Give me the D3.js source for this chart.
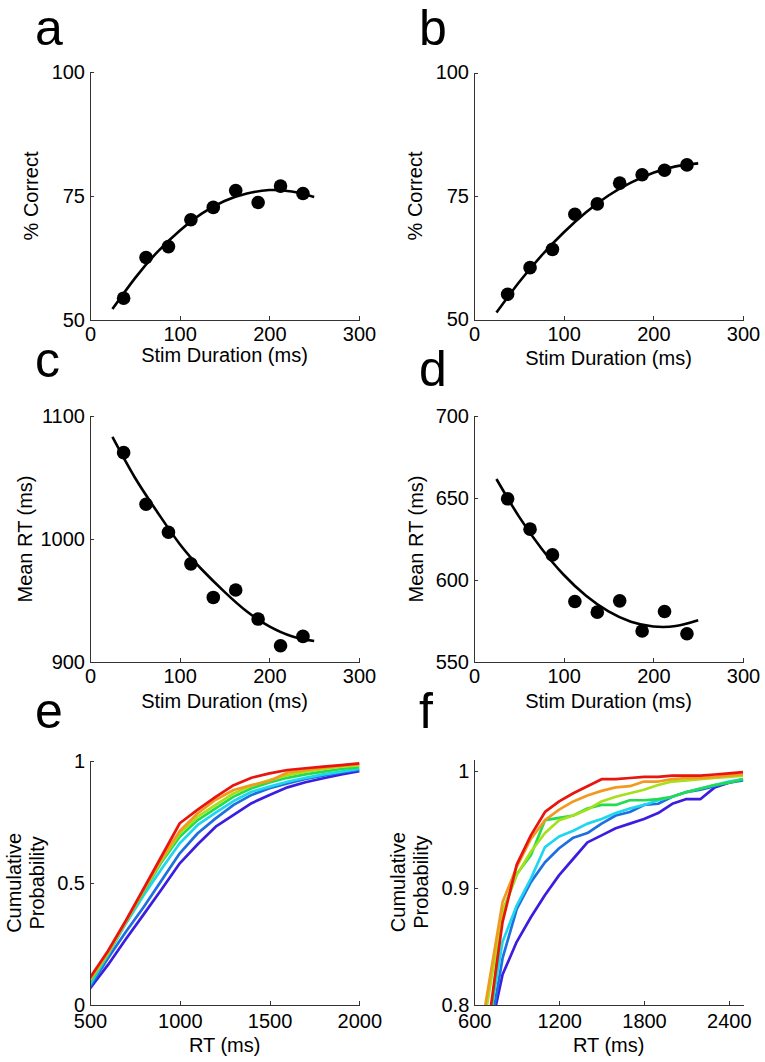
<!DOCTYPE html>
<html>
<head>
<meta charset="utf-8">
<script src="https://cdn.jsdelivr.net/npm/d3@7"></script>
<style>
  html, body { margin: 0; padding: 0; background: #fff; }
  svg { display: block; font-family: "Liberation Sans", Arial, Helvetica, sans-serif; }
  .axis path, .axis line { stroke: #333; stroke-width: 1; shape-rendering: crispEdges; }
  .axis text { fill: #000; font-size: 20px; font-family: "Liberation Sans", Arial, Helvetica, sans-serif; }
</style>
</head>
<body>
<svg id="chart" width="765" height="1062"></svg>
<script>
// ---------------- DATA ----------------
const stimDurations = [37.5, 62.5, 87.5, 112.5, 137.5, 162.5, 187.5, 212.5, 237.5];
const pctCorrectA = [54.4, 62.6, 64.8, 70.2, 72.7, 76.1, 73.7, 77.0, 75.5];
const pctCorrectB = [55.1, 60.5, 64.2, 71.3, 73.4, 77.6, 79.3, 80.2, 81.3];
const meanRtC = [1070.2, 1028.3, 1005.5, 979.8, 952.5, 958.5, 934.9, 913.2, 920.8];
const meanRtD = [649.5, 631.0, 615.3, 586.9, 580.4, 587.3, 568.9, 580.8, 567.2];

// fitted curves
const fitDurations = [25, 50, 75, 100, 125, 150, 175, 200, 225, 250];
const fitA = [52.2, 58.4, 63.7, 68.0, 71.5, 74.0, 75.5, 76.2, 75.9, 74.8];
const fitB = [51.4, 57.5, 62.9, 67.6, 71.7, 75.1, 77.7, 79.7, 81.0, 81.6];
const fitC = [1083, 1050, 1022, 996, 975, 957, 941, 929, 921, 917];
const fitD = [661.6, 638.8, 619.4, 603.2, 590.4, 580.8, 574.5, 571.6, 571.9, 575.5];

const durTicks = [0, 100, 200, 300];
const ticksA = [50, 75, 100];
const ticksC = [900, 1000, 1100];
const ticksD = [550, 600, 650, 700];

// cumulative RT distributions
const rtE = [500, 600, 700, 800, 900, 1000, 1100, 1200, 1300, 1400, 1500, 1600, 1700, 1800, 1900, 2000];
const cumE_violet = [0.068, 0.164, 0.270, 0.372, 0.475, 0.580, 0.658, 0.730, 0.778, 0.826, 0.860, 0.891, 0.912, 0.928, 0.944, 0.957];
const cumE_blue   = [0.075, 0.191, 0.300, 0.402, 0.512, 0.621, 0.703, 0.764, 0.819, 0.860, 0.887, 0.907, 0.925, 0.939, 0.952, 0.962];
const cumE_cyan   = [0.085, 0.205, 0.334, 0.450, 0.559, 0.662, 0.737, 0.787, 0.835, 0.873, 0.894, 0.914, 0.930, 0.944, 0.955, 0.967];
const cumE_green  = [0.095, 0.209, 0.341, 0.464, 0.587, 0.689, 0.757, 0.805, 0.853, 0.887, 0.911, 0.930, 0.944, 0.955, 0.966, 0.974];
const cumE_yellow = [0.102, 0.212, 0.341, 0.471, 0.594, 0.703, 0.771, 0.819, 0.866, 0.898, 0.921, 0.941, 0.955, 0.966, 0.976, 0.981];
const cumE_orange = [0.106, 0.216, 0.343, 0.473, 0.600, 0.712, 0.785, 0.840, 0.880, 0.900, 0.917, 0.952, 0.962, 0.971, 0.980, 0.986];
const cumE_red    = [0.112, 0.221, 0.346, 0.478, 0.611, 0.744, 0.800, 0.852, 0.900, 0.930, 0.948, 0.962, 0.969, 0.976, 0.982, 0.989];

const rtF = [600, 700, 800, 900, 1000, 1100, 1200, 1300, 1400, 1500, 1600, 1700, 1800, 1900, 2000, 2100, 2200, 2300, 2400, 2500];
const cumF_violet = [0.700, 0.770, 0.826, 0.854, 0.875, 0.894, 0.911, 0.925, 0.939, 0.945, 0.951, 0.955, 0.959, 0.964, 0.972, 0.976, 0.976, 0.986, 0.990, 0.993];
const cumF_blue   = [0.700, 0.769, 0.840, 0.882, 0.905, 0.922, 0.934, 0.943, 0.947, 0.955, 0.962, 0.965, 0.971, 0.972, 0.978, 0.982, 0.984, 0.987, 0.990, 0.992];
const cumF_cyan   = [0.700, 0.782, 0.854, 0.885, 0.908, 0.935, 0.944, 0.949, 0.955, 0.959, 0.964, 0.968, 0.971, 0.975, 0.978, 0.982, 0.985, 0.988, 0.991, 0.993];
const cumF_green  = [0.700, 0.773, 0.880, 0.912, 0.928, 0.958, 0.960, 0.962, 0.968, 0.971, 0.971, 0.975, 0.975, 0.976, 0.978, 0.982, 0.985, 0.988, 0.990, 0.993];
const cumF_yellow = [0.740, 0.807, 0.880, 0.911, 0.931, 0.947, 0.958, 0.962, 0.967, 0.974, 0.978, 0.981, 0.984, 0.988, 0.991, 0.992, 0.993, 0.994, 0.995, 0.996];
const cumF_orange = [0.743, 0.816, 0.888, 0.918, 0.942, 0.958, 0.967, 0.974, 0.979, 0.983, 0.986, 0.987, 0.991, 0.991, 0.993, 0.994, 0.994, 0.995, 0.996, 0.997];
const cumF_red    = [0.650, 0.784, 0.871, 0.920, 0.945, 0.965, 0.974, 0.981, 0.987, 0.993, 0.993, 0.994, 0.995, 0.995, 0.996, 0.996, 0.996, 0.997, 0.998, 0.999];

const seriesColors = ["#3c1de0", "#1e6fe0", "#1ed7ee", "#22dc50", "#a6e01a", "#f29a1f", "#e8140e"];
const ticksE_x = [500, 1000, 1500, 2000];
const ticksE_y = [0, 0.5, 1];
const ticksF_x = [600, 1200, 1800, 2400];
const ticksF_y = [0.8, 0.9, 1];

// ---------------- DRAWING ----------------
const svg = d3.select("#chart");
svg.append("rect").attr("width", 765).attr("height", 1062).attr("fill", "#fff");
const FONT = "'Liberation Sans', Arial, Helvetica, sans-serif";

let clipId = 0;
function panel(opt) {
  const g = svg.append("g");
  const x = d3.scaleLinear().domain(opt.xDomain).range(opt.xRange);
  const y = d3.scaleLinear().domain(opt.yDomain).range(opt.yRange);

  const cid = "clip" + (clipId++);
  svg.append("clipPath").attr("id", cid).append("rect")
    .attr("x", opt.xRange[0]).attr("y", Math.min(...opt.yRange) - 3)
    .attr("width", opt.xRange[1] - opt.xRange[0] + 4)
    .attr("height", Math.abs(opt.yRange[0] - opt.yRange[1]) + 3);

  const plot = g.append("g").attr("clip-path", opt.clip ? `url(#${cid})` : null);

  // axes
  g.append("g").attr("class", "axis")
    .attr("transform", `translate(0,${opt.yRange[0]})`)
    .call(d3.axisBottom(x).tickValues(opt.xTicks).tickSize(-4).tickSizeOuter(0)
      .tickPadding(opt.xPad || 7).tickFormat(d3.format("d")));
  g.append("g").attr("class", "axis")
    .attr("transform", `translate(${opt.xRange[0]},0)`)
    .call(d3.axisLeft(y).tickValues(opt.yTicks).tickSize(-4).tickSizeOuter(0).tickPadding(5)
      .tickFormat(opt.yFormat || d3.format("d")));
  g.selectAll(".axis .domain").attr("fill", "none");

  // x title
  g.append("text").attr("x", (opt.xRange[0] + opt.xRange[1]) / 2).attr("y", opt.xTitleY)
    .attr("text-anchor", "middle").attr("font-size", 20).attr("font-family", FONT)
    .text(opt.xTitle);
  // y title (possibly multi-line)
  const yMid = (opt.yRange[0] + opt.yRange[1]) / 2;
  opt.yTitle.forEach((t, i) => {
    g.append("text")
      .attr("transform", `translate(${opt.yTitleX[i]},${yMid}) rotate(-90)`)
      .attr("text-anchor", "middle").attr("font-size", 20).attr("font-family", FONT)
      .text(t);
  });
  // panel letter
  g.append("text").attr("x", opt.letterPos[0]).attr("y", opt.letterPos[1])
    .attr("font-size", 50).attr("font-family", FONT).text(opt.letter);

  return { plot, x, y };
}

function fitPanel(opt, xs, ys, fitYs) {
  const p = panel(opt);
  const line = d3.line().x(d => p.x(d[0])).y(d => p.y(d[1])).curve(d3.curveNatural);
  p.plot.append("path").datum(fitDurations.map((d, i) => [d, fitYs[i]]))
    .attr("d", line).attr("fill", "none").attr("stroke", "#000").attr("stroke-width", 2.6);
  p.plot.selectAll("circle").data(xs.map((d, i) => [d, ys[i]])).join("circle")
    .attr("cx", d => p.x(d[0])).attr("cy", d => p.y(d[1])).attr("r", 6.8).attr("fill", "#000");
}

function cdfPanel(opt, xs, seriesList) {
  const p = panel(Object.assign({ clip: true }, opt));
  const line = d3.line().x(d => p.x(d[0])).y(d => p.y(d[1]));
  seriesList.forEach((s, i) => {
    p.plot.append("path").datum(xs.map((d, j) => [d, s[j]]))
      .attr("d", line).attr("fill", "none").attr("stroke", seriesColors[i])
      .attr("stroke-width", 2.7).attr("stroke-linejoin", "round");
  });
}

fitPanel({
  xDomain: [0, 300], xRange: [90, 359], yDomain: [50, 100], yRange: [320, 72],
  xTicks: durTicks, yTicks: ticksA, xTitle: "Stim Duration (ms)", xTitleY: 362,
  yTitle: ["% Correct"], yTitleX: [38], letter: "a", letterPos: [35, 45]
}, stimDurations, pctCorrectA, fitA);

fitPanel({
  xDomain: [0, 300], xRange: [474, 743], yDomain: [50, 100], yRange: [319.5, 72.5],
  xTicks: durTicks, yTicks: ticksA, xTitle: "Stim Duration (ms)", xTitleY: 365,
  yTitle: ["% Correct"], yTitleX: [422], letter: "b", letterPos: [419, 45]
}, stimDurations, pctCorrectB, fitB);

fitPanel({
  xDomain: [0, 300], xRange: [90, 359], yDomain: [900, 1100], yRange: [662, 416],
  xTicks: durTicks, yTicks: ticksC, xTitle: "Stim Duration (ms)", xTitleY: 708,
  yTitle: ["Mean RT (ms)"], yTitleX: [32], letter: "c", letterPos: [35, 377]
}, stimDurations, meanRtC, fitC);

fitPanel({
  xDomain: [0, 300], xRange: [474, 743], yDomain: [550, 700], yRange: [662, 416],
  xTicks: durTicks, yTicks: ticksD, xTitle: "Stim Duration (ms)", xTitleY: 708,
  yTitle: ["Mean RT (ms)"], yTitleX: [423], letter: "d", letterPos: [419, 386]
}, stimDurations, meanRtD, fitD);

cdfPanel({
  xDomain: [500, 2000], xRange: [90, 359.3], yDomain: [0, 1], yRange: [1005, 760.7],
  xTicks: ticksE_x, yTicks: ticksE_y, yFormat: d3.format("~g"), xPad: 9,
  xTitle: "RT (ms)", xTitleY: 1052,
  yTitle: ["Cumulative", "Probability"], yTitleX: [21, 44], letter: "e", letterPos: [35, 728]
}, rtE, [cumE_violet, cumE_blue, cumE_cyan, cumE_green, cumE_yellow, cumE_orange, cumE_red]);

cdfPanel({
  xDomain: [600, 2500], xRange: [474.3, 743], yDomain: [0.8, 1.01], yRange: [1005, 759.3],
  xTicks: ticksF_x, yTicks: ticksF_y, yFormat: d3.format("~g"), xPad: 9,
  xTitle: "RT (ms)", xTitleY: 1052,
  yTitle: ["Cumulative", "Probability"], yTitleX: [405, 428], letter: "f", letterPos: [419, 728]
}, rtF, [cumF_violet, cumF_blue, cumF_cyan, cumF_green, cumF_yellow, cumF_orange, cumF_red]);
</script>
</body>
</html>
